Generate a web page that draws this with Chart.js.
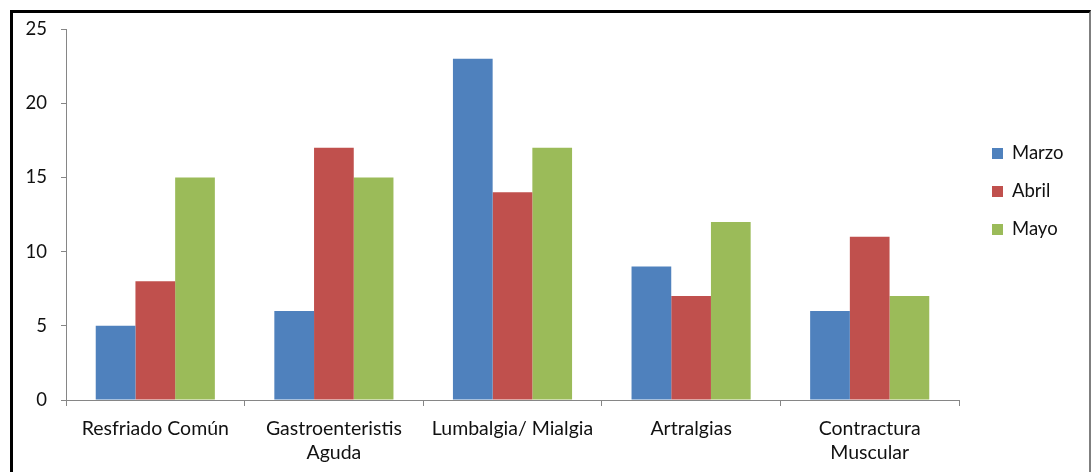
<!DOCTYPE html>
<html>
<head>
<meta charset="utf-8">
<script src="https://cdn.jsdelivr.net/npm/chart.js@4.4.1/dist/chart.umd.min.js"></script>
<style>
  html, body { margin: 0; padding: 0; background: #fff; }
  #wrap { position: relative; width: 1091px; height: 472px; overflow: hidden; }
  #frame {
    position: absolute; left: 10px; top: 10px; width: 1076px; height: 470px;
    border-top: 3px solid #000; border-left: 3px solid #000; border-right: 2px solid #7f7f7f;
    box-sizing: content-box; pointer-events: none;
  }
  canvas { position: absolute; left: 0; top: 0; }
</style>
</head>
<body>
<div id="wrap">
  <canvas id="chart" width="1091" height="472"></canvas>
  <div id="frame"></div>
</div>
<script>
const categories = [
  'Resfriado Común',
  ['Gastroenteristis', 'Aguda'],
  'Lumbalgia/ Mialgia',
  'Artralgias',
  ['Contractura', 'Muscular']
];
const seriesNames = ['Marzo', 'Abril', 'Mayo'];
const marzo = [5, 6, 23, 9, 6];
const abril = [8, 17, 14, 7, 11];
const mayo = [15, 15, 17, 12, 7];
const yTicks = [0, 5, 10, 15, 20, 25];

const colors = ['#4F81BD', '#C0504D', '#9BBB59'];
const FONT = 'Lato, "Open Sans", sans-serif';

// Legend drawn to the right of the plot, stacked vertically
const sideLegend = {
  id: 'sideLegend',
  afterDraw(chart) {
    const ctx = chart.ctx;
    const area = chart.chartArea;
    const x = area.right + 33;
    const y0 = area.top + 124;
    ctx.save();
    ctx.font = '18.5px ' + FONT;
    ctx.textBaseline = 'middle';
    ctx.textAlign = 'left';
    chart.data.datasets.forEach((ds, i) => {
      const cy = y0 + i * 38;
      ctx.fillStyle = ds.backgroundColor;
      ctx.fillRect(x, cy - 5, 11, 11);
      ctx.fillStyle = '#111';
      ctx.fillText(ds.label, x + 20, cy);
    });
    ctx.restore();
  }
};

new Chart(document.getElementById('chart'), {
  type: 'bar',
  data: {
    labels: categories,
    datasets: [marzo, abril, mayo].map((vals, i) => ({
      label: seriesNames[i],
      data: vals,
      backgroundColor: colors[i],
      borderWidth: 0,
      categoryPercentage: 0.667,
      barPercentage: 1.0
    }))
  },
  options: {
    responsive: false,
    animation: false,
    devicePixelRatio: 1,
    layout: { padding: { top: 29, right: 132, left: 0, bottom: 0 } },
    plugins: { legend: { display: false }, tooltip: { enabled: false } },
    scales: {
      x: {
        grid: { display: true, drawOnChartArea: false, drawTicks: true, tickLength: 6, color: '#868686', offset: true },
        border: { display: true, color: '#868686', width: 1 },
        ticks: { color: '#111', font: { family: FONT, size: 19.5, lineHeight: 1.23 }, padding: 11, maxRotation: 0, autoSkip: false },
        afterFit(scale) { scale.height = 72; }
      },
      y: {
        min: 0,
        max: 25,
        afterBuildTicks(scale) { scale.ticks = yTicks.map(v => ({ value: v })); },
        grid: { display: true, drawOnChartArea: false, drawTicks: true, tickLength: 5, color: '#868686' },
        border: { display: true, color: '#868686', width: 1 },
        ticks: { color: '#111', font: { family: FONT, size: 18.5 }, padding: 14 },
        afterFit(scale) { scale.width = 66; }
      }
    }
  },
  plugins: [sideLegend]
});
</script>
</body>
</html>
